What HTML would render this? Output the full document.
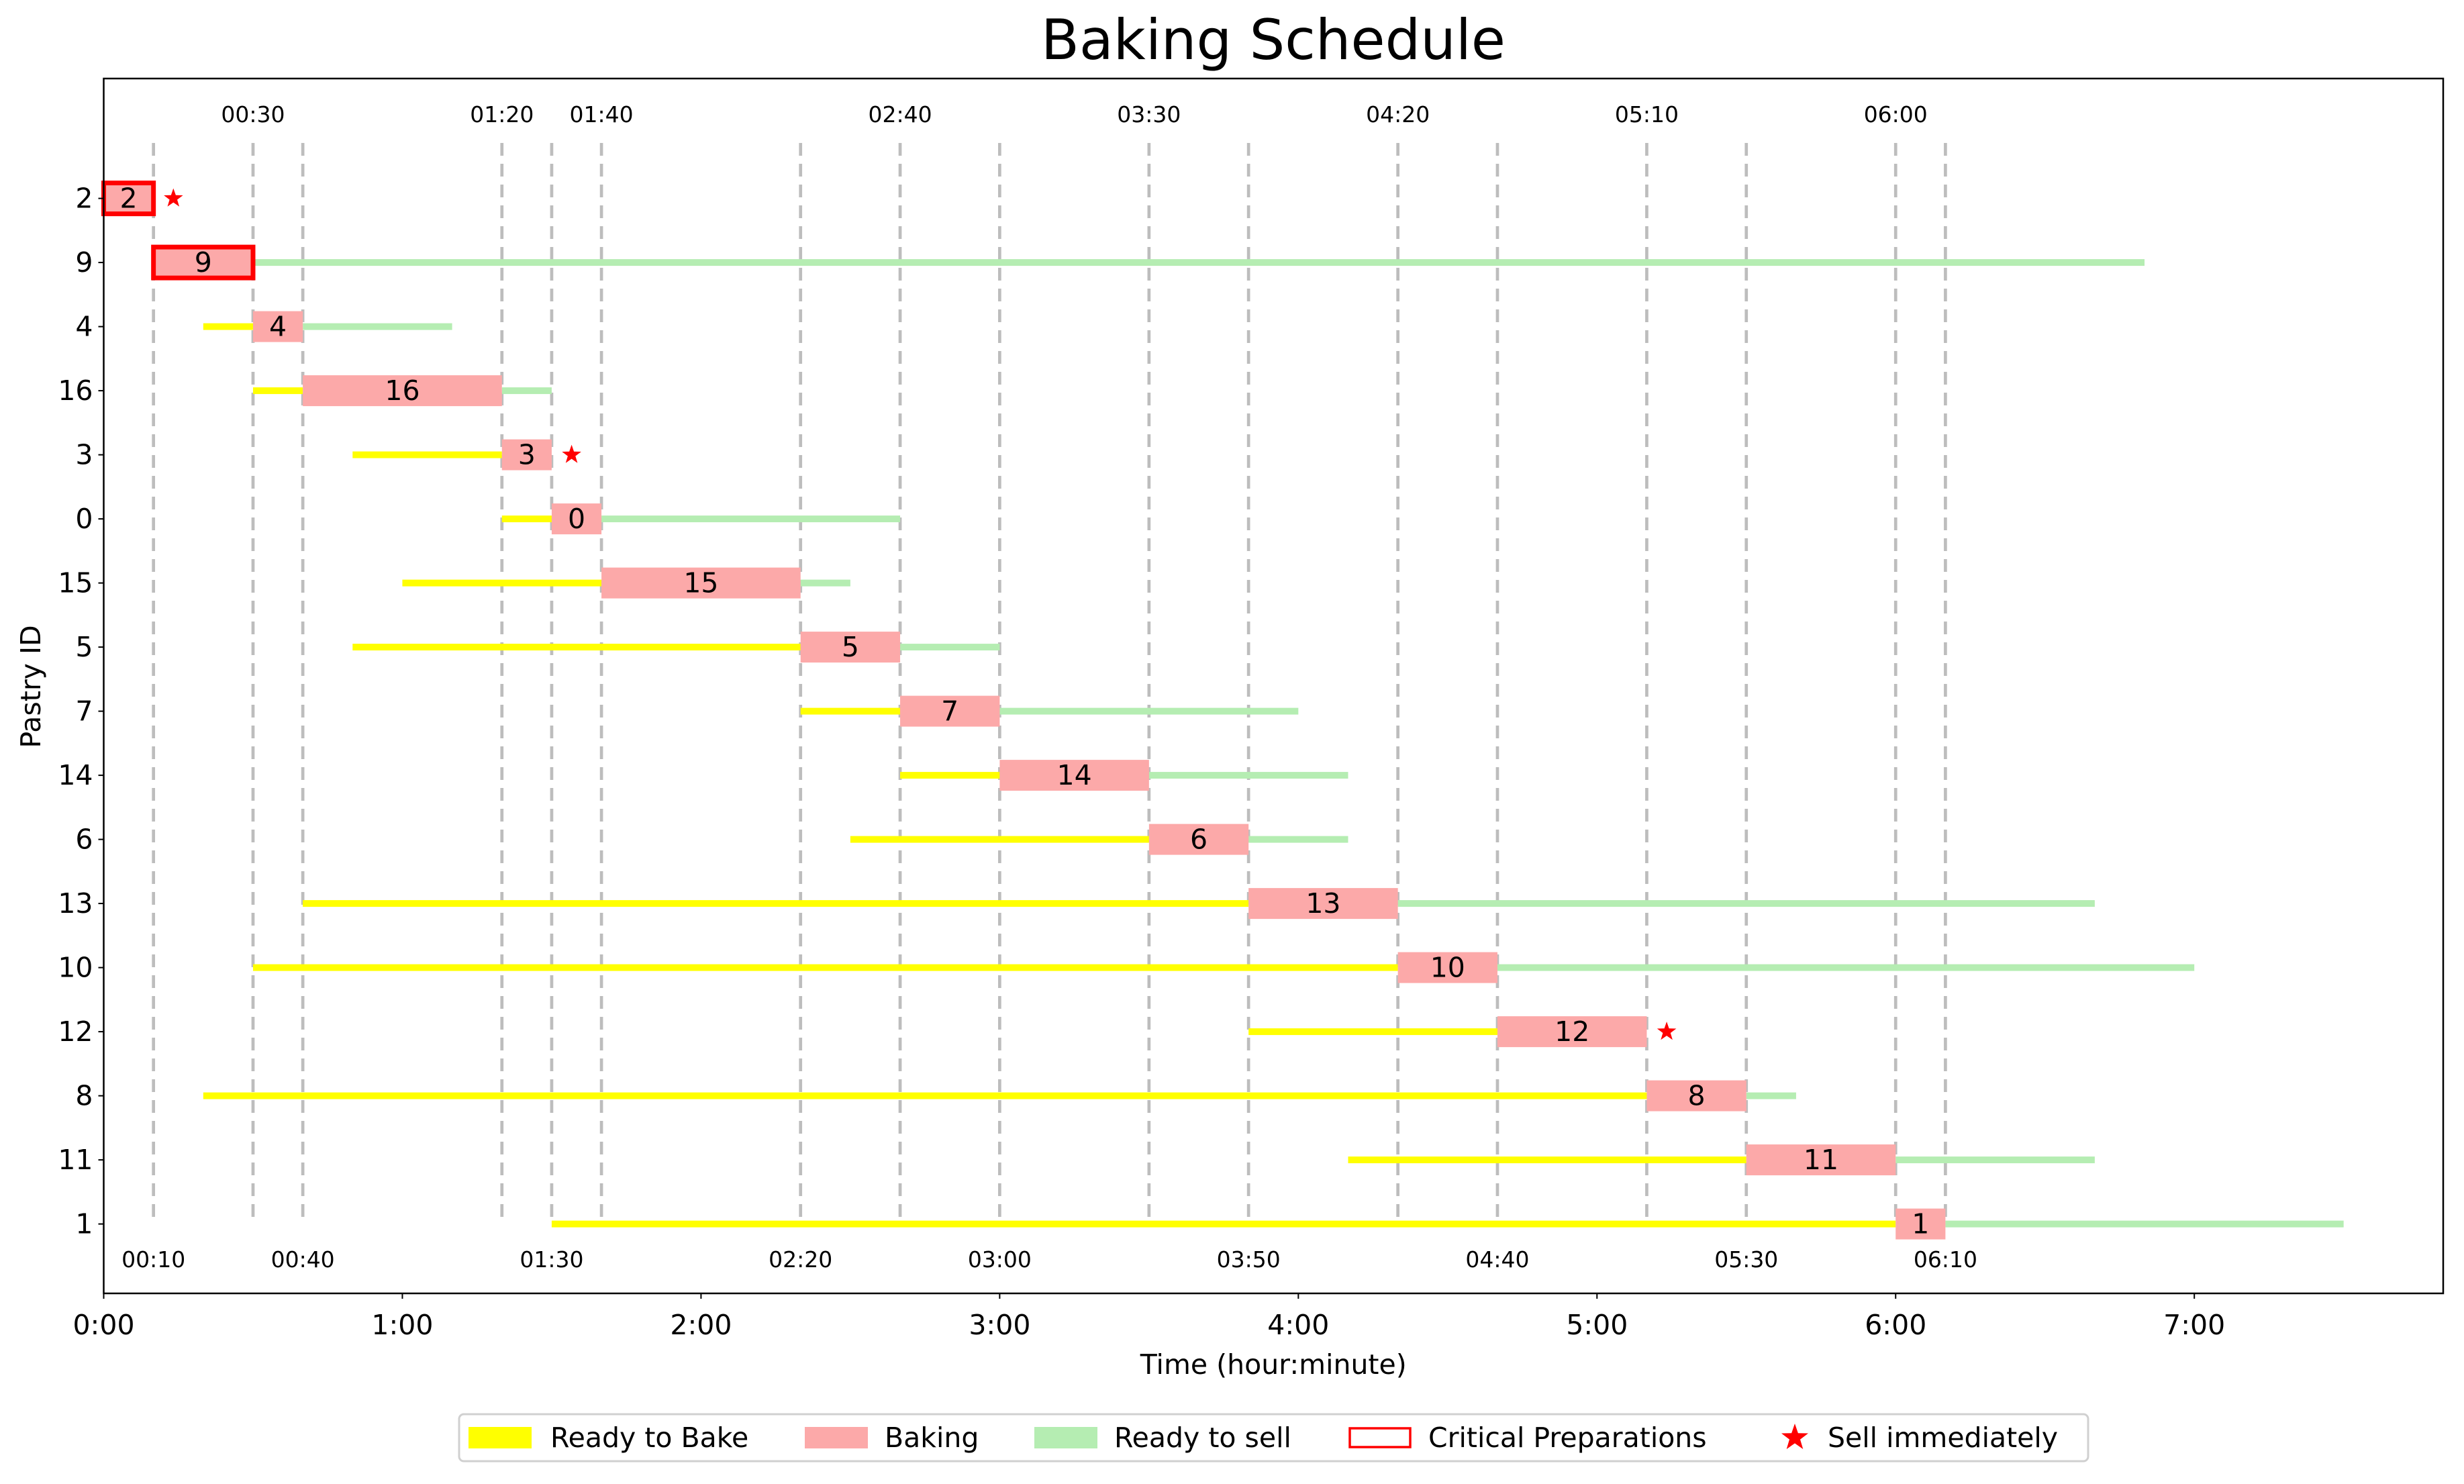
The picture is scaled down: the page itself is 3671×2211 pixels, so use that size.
<!DOCTYPE html>
<html><head><meta charset="utf-8"><style>
html,body{margin:0;padding:0;background:#fff;}
svg{display:block;font-family:"DejaVu Sans","Liberation Sans",sans-serif;}
</style></head><body>
<svg id="chart" width="3671" height="2211" viewBox="0 0 3671 2211" xmlns="http://www.w3.org/2000/svg">
<rect width="3671" height="2211" fill="#fff"/>
<text x="1897" y="88" font-size="83" text-anchor="middle">Baking Schedule</text>
<g id="plot"></g>
</svg>
<script>
const pastries = [2, 9, 4, 16, 3, 0, 15, 5, 7, 14, 6, 13, 10, 12, 8, 11, 1];
const readyStart = [null, null, 20, 30, 50, 80, 60, 50, 140, 160, 150, 40, 30, 230, 20, 250, 90];
const bakeStart = [0, 10, 30, 40, 80, 90, 100, 140, 160, 180, 210, 230, 260, 280, 310, 330, 360];
const bakeEnd = [10, 30, 40, 80, 90, 100, 140, 160, 180, 210, 230, 260, 280, 310, 330, 360, 370];
const sellEnd = [null, 410, 70, 90, null, 160, 150, 180, 240, 250, 250, 400, 420, null, 340, 400, 450];
const critical = [true, true, false, false, false, false, false, false, false, false, false, false, false, false, false, false, false];
const sellNow = [true, false, false, false, true, false, false, false, false, false, false, false, false, true, false, false, false];
const eventTimes = [10, 30, 40, 80, 90, 100, 140, 160, 180, 210, 230, 260, 280, 310, 330, 360, 370];
const xTickHours = [0, 1, 2, 3, 4, 5, 6, 7];
const legendLabels = ["Ready to Bake", "Baking", "Ready to sell", "Critical Preparations", "Sell immediately"];

const NS = "http://www.w3.org/2000/svg";
const g = document.getElementById('plot');
const L = 154.5, R = 3640, T = 117, B = 1927;
const XMAX = 470;
const xs = m => L + m / XMAX * (R - L);
const Y0 = 1823.6, DY = 95.5;
const ys = i => Y0 - (pastries.length - 1 - i) * DY;
function el(tag, attrs, parent) {
  const e = document.createElementNS(NS, tag);
  for (const k in attrs) e.setAttribute(k, attrs[k]);
  (parent || g).appendChild(e);
  return e;
}
function fmt(m) { const h = Math.floor(m / 60), mm = m % 60; return String(h).padStart(2, '0') + ':' + String(mm).padStart(2, '0'); }
function star(cx, cy, r) {
  let p = [];
  for (let k = 0; k < 10; k++) {
    const a = -Math.PI / 2 + k * Math.PI / 5, rr = k % 2 ? r * 0.4 : r;
    p.push((cx + rr * Math.cos(a)).toFixed(1) + ',' + (cy + rr * Math.sin(a)).toFixed(1));
  }
  return p.join(' ');
}

eventTimes.forEach((t, i) => {
  const ln = el('line', {x1: xs(t), x2: xs(t), y1: 213, y2: 1824, stroke: '#bdbdbd', 'stroke-width': 4.7, 'stroke-dasharray': '19 12'});
  
  
  const top = i % 2 === 1;
  const tx = el('text', {x: xs(t), y: top ? 182 : 1888, 'font-size': 33, 'text-anchor': 'middle'});
  tx.textContent = fmt(t);
  
  
});

pastries.forEach((p, i) => {
  const y = ys(i);
  if (sellEnd[i] !== null) {
    const r = el('rect', {x: xs(bakeEnd[i]), y: y - 5, width: xs(sellEnd[i]) - xs(bakeEnd[i]), height: 10, fill: '#b5edb2'});
    
    
  }
  if (readyStart[i] !== null) {
    const r = el('rect', {x: xs(readyStart[i]), y: y - 5, width: xs(bakeStart[i]) - xs(readyStart[i]), height: 10, fill: '#ffff00'});
    
    
  }
  const b = el('rect', {x: xs(bakeStart[i]), y: y - 23, width: xs(bakeEnd[i]) - xs(bakeStart[i]), height: 46, fill: '#fca9a9'});
  
  
  if (critical[i]) {
    b.setAttribute('stroke', '#ff0000');
    b.setAttribute('stroke-width', 7);
  }
  const t = el('text', {x: (xs(bakeStart[i]) + xs(bakeEnd[i])) / 2, y: y + 14, 'font-size': 41, 'text-anchor': 'middle'});
  t.textContent = p;
  
  
  if (sellNow[i]) {
    const s = el('polygon', {points: star(xs(bakeEnd[i] + 4), y, 15), fill: '#ff0000'});
    
    
  }
  const tk = el('line', {x1: L - 8, x2: L, y1: y, y2: y, stroke: '#000', 'stroke-width': 2});
  
  
  const yl = el('text', {x: L - 16, y: y + 14, 'font-size': 41, 'text-anchor': 'end'});
  yl.textContent = p;
  
  
});

const fr = el('rect', {x: L, y: T, width: R - L, height: B - T, fill: 'none', stroke: '#000', 'stroke-width': 2.5});



xTickHours.forEach(h => {
  const x = xs(h * 60);
  const tk = el('line', {x1: x, x2: x, y1: B, y2: B + 8, stroke: '#000', 'stroke-width': 2});
  
  
  const t = el('text', {x: x, y: 1988, 'font-size': 41, 'text-anchor': 'middle'});
  t.textContent = h + ':00';
  
  
});

const xt = el('text', {x: (L + R) / 2, y: 2047, 'font-size': 41, 'text-anchor': 'middle'});
xt.textContent = 'Time (hour:minute)';


const yt = el('text', {x: 0, y: 0, 'font-size': 41, 'text-anchor': 'middle', transform: 'translate(60,1023) rotate(-90)'});
yt.textContent = 'Pastry ID';



const lg = el('g', {});


el('rect', {x: 684, y: 2107, width: 2427, height: 70, rx: 7, fill: '#fff', stroke: '#d0d0d0', 'stroke-width': 3}, lg);
const lx = [698, 1199, 1541, 2009, 2674];
const tx0 = [820, 1318, 1660, 2128, 2723];
legendLabels.forEach((lab, k) => {
  const cy = 2142;
  let m;
  if (k === 0) m = el('rect', {x: lx[k], y: cy - 16, width: 94, height: 32, fill: '#ffff00'}, lg);
  if (k === 1) m = el('rect', {x: lx[k], y: cy - 16, width: 94, height: 32, fill: '#fca9a9'}, lg);
  if (k === 2) m = el('rect', {x: lx[k], y: cy - 16, width: 94, height: 32, fill: '#b5edb2'}, lg);
  if (k === 3) m = el('rect', {x: lx[k] + 2, y: cy - 14, width: 90, height: 28, fill: 'none', stroke: '#ff0000', 'stroke-width': 3.5}, lg);
  if (k === 4) m = el('polygon', {points: star(lx[k], cy, 21), fill: '#ff0000'}, lg);
  
  
  const t = el('text', {x: tx0[k], y: cy + 14, 'font-size': 41}, lg);
  t.textContent = lab;
  
  
});
</script>
</body></html>
